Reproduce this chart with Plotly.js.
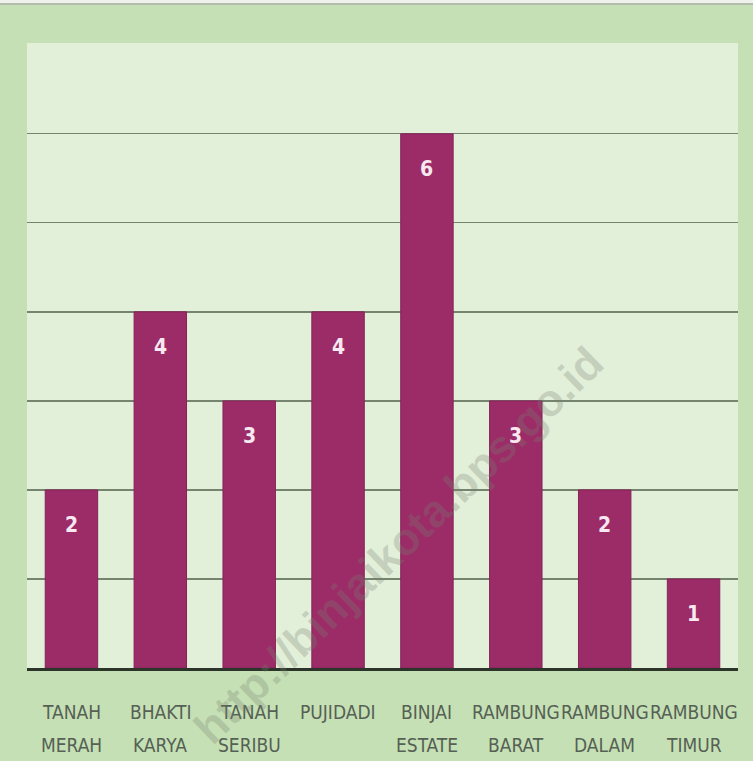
<!DOCTYPE html>
<html>
<head>
<meta charset="utf-8">
<script src="https://cdn.plot.ly/plotly-3.0.1.min.js"></script>
<style>html,body{margin:0;padding:0;background:#c5e0b4;}#chart{width:753px;height:761px;}</style>
</head>
<body>
<div id="chart"></div>
<script>
const categories = ["TANAH MERAH","BHAKTI KARYA","TANAH SERIBU","PUJIDADI","BINJAI ESTATE","RAMBUNG BARAT","RAMBUNG DALAM","RAMBUNG TIMUR"];
const labelLine1 = ["TANAH","BHAKTI","TANAH","PUJIDADI","BINJAI","RAMBUNG","RAMBUNG","RAMBUNG"];
const labelLine2 = ["MERAH","KARYA","SERIBU","","ESTATE","BARAT","DALAM","TIMUR"];
const values = [2,4,3,4,6,3,2,1];
const gridValues = [1,2,3,4,5,6];
const watermark = "http://binjaikota.bps.go.id";

const narrow = '"Liberation Sans Narrow", "DejaVu Sans Condensed", "Arial Narrow", sans-serif';

const trace = {
  type: 'bar',
  x: categories,
  y: values,
  marker: {color: '#9c2c67', line: {color: '#86225a', width: 1}},
  hoverinfo: 'none'
};

const annotations = [];
categories.forEach((c, i) => {
  annotations.push({
    x: c, y: values[i], xref: 'x', yref: 'y', yshift: -35,
    text: String(values[i]), showarrow: false,
    font: {family: narrow, size: 21, color: '#f7e8f1', weight: 'bold'}
  });
  annotations.push({
    x: c, y: -0.07, xref: 'x', yref: 'paper', yanchor: 'middle',
    text: labelLine1[i], showarrow: false,
    font: {family: narrow, size: 19, color: '#566055'}
  });
  if (labelLine2[i]) {
    annotations.push({
      x: c, y: -0.123, xref: 'x', yref: 'paper', yanchor: 'middle',
      text: labelLine2[i], showarrow: false,
      font: {family: narrow, size: 19, color: '#566055'}
    });
  }
});
annotations.push({
  x: 0.522, y: 0.196, xref: 'paper', yref: 'paper', xanchor: 'center', yanchor: 'middle',
  text: watermark, showarrow: false, textangle: -44,
  font: {family: '"Liberation Sans", Arial, sans-serif', size: 45, color: 'rgba(120,130,115,0.28)', weight: 'bold'}
});

const layout = {
  width: 753, height: 761,
  margin: {l: 27, r: 15, t: 43, b: 93},
  paper_bgcolor: '#c5e0b4',
  plot_bgcolor: '#e2efd9',
  bargap: 0.41,
  showlegend: false,
  xaxis: {
    type: 'category', range: [-0.5, 7.5],
    showticklabels: false, ticks: '', showgrid: false,
    showline: true, linecolor: '#2b3529', linewidth: 3,
    zeroline: false, fixedrange: true
  },
  yaxis: {
    range: [0, 7.02], tickvals: gridValues, showticklabels: false,
    showgrid: true, gridcolor: '#74846e', gridwidth: 1.3,
    zeroline: false, showline: false, ticks: '', fixedrange: true
  },
  annotations: annotations,
  shapes: [
    {type: 'rect', xref: 'paper', yref: 'paper', x0: -0.04, x1: 1.03, y0: 1.0624, y1: 1.08,
     fillcolor: '#eef2ea', line: {width: 0}},
    {type: 'line', xref: 'paper', yref: 'paper', x0: -0.04, x1: 1.03, y0: 1.0624, y1: 1.0624,
     line: {color: '#b4bcae', width: 2}}
  ]
};

Plotly.newPlot('chart', [trace], layout, {displayModeBar: false, staticPlot: true});
</script>
</body>
</html>
